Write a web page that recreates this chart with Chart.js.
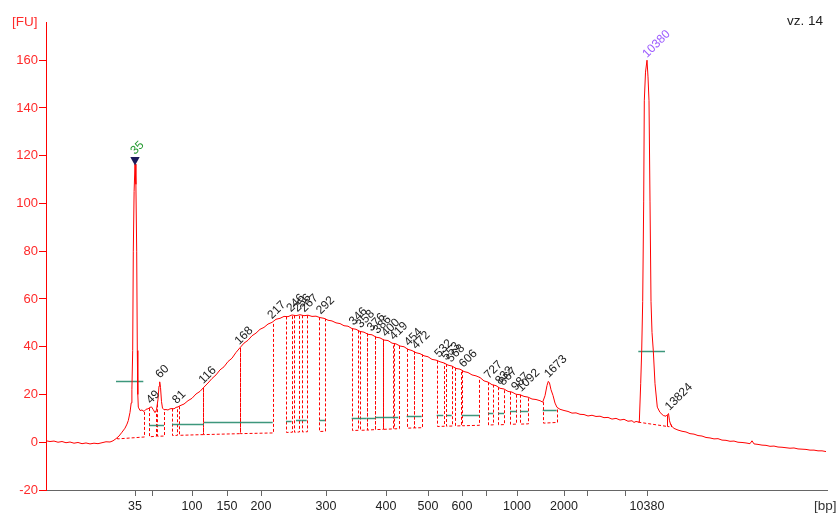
<!DOCTYPE html>
<html>
<head>
<meta charset="utf-8">
<script src="https://cdn.jsdelivr.net/npm/chart.js@4.4.1/dist/chart.umd.min.js"></script>
<style>
  html, body { margin: 0; padding: 0; background: #fff; }
  canvas { display: block; }
</style>
</head>
<body>
<canvas id="electropherogram" width="840" height="513"></canvas>
<script>
// Sizing ladder: fragment size (bp) against migration time (s)
const ladderBp = [35, 50, 100, 150, 200, 300, 400, 500, 600, 700, 1000, 2000, 3000, 7000, 10380];
const ladderTime = [48.9, 50.6, 54.6, 58.1, 61.5, 68.0, 74.0, 78.2, 81.6, 84.0, 87.1, 91.8, 94.1, 97.9, 100.1];
const ladderTickLabels = ['35', '', '100', '150', '200', '300', '400', '500', '600', '', '1000', '2000', '', '', '10380'];

// Fluorescence axis ticks [FU]
const fuTicks = [-20, 0, 20, 40, 60, 80, 100, 120, 140, 160];

// Measured signal: [migration time (s), fluorescence (FU)]
const traceSignal = [
  [40.0, 0.6], [40.4, 0.3], [40.8, 0.5], [41.2, 0.0], [41.6, 0.3], [42.0, -0.2], [42.4, 0.1], [42.8, -0.4],
  [43.2, -0.1], [43.6, -0.6], [44.0, -0.3], [44.4, -0.7], [44.8, -0.4], [45.2, -0.6], [45.6, -0.2], [46.0, 0.2],
  [46.4, 0.1], [46.7, 0.6], [47.0, 1.5], [47.3, 2.6], [47.6, 4.2], [47.9, 5.9], [48.1, 7.6], [48.23, 9.1],
  [48.4, 12.5], [48.52, 16.5], [48.59, 22], [48.67, 38.4], [48.73, 80], [48.81, 105], [48.9, 116.5], [48.99, 108],
  [49.07, 80], [49.13, 38.4], [49.18, 20], [49.23, 14.7], [49.4, 13.3], [49.6, 13.5], [49.8, 12.9], [50.0, 13.8],
  [50.2, 14.0], [50.4, 14.6], [50.55, 14.8], [50.7, 13.8], [50.9, 12.4], [51.05, 13.5], [51.2, 18], [51.3, 23.5],
  [51.37, 25.3], [51.45, 23], [51.55, 17], [51.65, 14.3], [51.8, 13.6], [52.0, 13.7], [52.2, 13.5], [52.4, 14.0],
  [52.6, 14.1], [52.8, 14.0], [53.0, 14.6], [53.2, 14.8], [53.4, 15.3], [53.8, 16.0], [54.2, 17.4], [54.6, 18.4],
  [55.0, 20.2], [55.4, 21.3], [55.8, 23.1], [56.2, 24.8], [56.6, 26.7], [57.0, 28.2], [57.4, 30.3], [57.8, 31.6],
  [58.2, 33.8], [58.6, 35.2], [59.0, 37.6], [59.4, 39.6], [59.8, 41.5], [60.2, 42.7], [60.6, 44.6], [61.0, 45.7],
  [61.4, 47.3], [61.8, 48.1], [62.2, 49.5], [62.6, 50.2], [63.0, 51.5], [63.4, 51.9], [63.8, 52.7], [64.2, 52.6],
  [64.6, 53.3], [65.0, 53.0], [65.4, 53.4], [65.8, 53.0], [66.2, 53.2], [66.6, 52.7], [67.0, 52.8], [67.4, 52.2],
  [67.8, 51.9], [68.2, 51.1], [68.6, 50.8], [69.0, 50.0], [69.4, 49.7], [69.8, 48.8], [70.2, 48.6], [70.6, 47.6],
  [71.0, 47.3], [71.4, 46.4], [71.8, 46.1], [72.2, 45.2], [72.6, 45.0], [73.0, 44.0], [73.4, 43.7], [73.8, 42.8],
  [74.2, 42.6], [74.6, 41.5], [75.0, 41.2], [75.4, 40.3], [75.8, 40.0], [76.2, 38.9], [76.6, 38.4], [77.0, 37.5],
  [77.4, 37.1], [77.8, 36.2], [78.2, 35.8], [78.6, 34.7], [79.0, 34.4], [79.4, 33.7], [79.8, 33.2], [80.2, 32.3],
  [80.6, 31.9], [81.0, 30.9], [81.4, 30.6], [81.8, 29.6], [82.2, 29.2], [82.6, 28.2], [83.0, 27.8], [83.4, 27.1],
  [83.8, 25.7], [84.2, 25.2], [84.6, 24.1], [85.0, 23.7], [85.4, 22.6], [85.8, 22.3], [86.2, 21.3], [86.6, 21.0],
  [87.0, 20.1], [87.4, 19.9], [87.8, 19.2], [88.2, 18.9], [88.6, 18.1], [89.0, 17.9], [89.4, 17.4], [89.67, 16.8],
  [89.9, 19.5], [90.1, 23.8], [90.23, 25.5], [90.35, 24.8], [90.5, 22.0], [90.7, 19.6], [90.9, 16.4], [91.1, 14.6],
  [91.4, 13.8], [91.8, 13.3], [92.2, 12.9], [92.6, 12.2], [93.0, 12.3], [93.4, 11.7], [93.8, 11.6], [94.2, 11.0],
  [94.6, 11.3], [95.0, 10.8], [95.4, 10.9], [95.8, 10.3], [96.2, 10.4], [96.6, 9.7], [97.0, 10.0], [97.4, 9.3],
  [97.8, 9.6], [98.2, 8.8], [98.6, 9.0], [98.8, 8.3], [99.0, 8.7], [99.33, 8.4], [99.47, 24.5], [99.57, 38.3],
  [99.67, 59], [99.77, 101], [99.83, 143], [99.95, 155], [100.1, 160], [100.2, 153], [100.3, 143], [100.4, 101],
  [100.5, 59], [100.6, 46], [100.73, 38.3], [100.9, 24.5], [101.13, 14.7], [101.4, 12.5], [101.73, 11.2], [102.0, 10.9],
  [102.15, 11.6], [102.25, 12.0], [102.35, 9.0], [102.5, 7.0], [102.8, 5.8], [103.2, 5.1], [103.6, 4.6], [104.0, 4.3],
  [104.4, 3.6], [104.8, 3.4], [105.2, 2.8], [105.6, 2.6], [106.0, 2.0], [106.4, 1.8], [106.8, 1.4], [107.2, 1.5],
  [107.6, 0.9], [108.0, 0.8], [108.4, 0.4], [108.8, 0.5], [109.2, 0.0], [109.6, -0.1], [110.0, -0.3], [110.4, -0.6],
  [110.6, 0.6], [110.8, -0.7], [111.2, -0.9], [111.6, -1.2], [112.0, -1.3], [112.4, -1.7], [112.8, -1.6], [113.2, -2.0],
  [113.6, -2.1], [114.0, -2.3], [114.4, -2.5], [114.8, -2.4], [115.2, -2.8], [115.6, -2.9], [116.0, -3.0], [116.4, -3.3],
  [116.8, -3.3], [117.2, -3.6], [117.6, -3.6], [118.0, -3.9]
];

// Called peaks: size (bp) and height (FU)
const peakBp = [35, 49, 60, 81, 116, 168, 217, 246, 256, 267, 292, 346, 358, 376, 386, 400, 419, 454, 472,
  532, 553, 568, 606, 727, 832, 867, 987, 1092, 1673, 10380, 13824];
const peakFU = [116.5, 14.7, 25.3, 14.7, 23.0, 39.4, 50.2, 53.1, 53.1, 53.0, 52.1, 47.5, 46.4, 45.0, 44.0, 42.7, 41.4,
  38.8, 37.5, 34.0, 32.9, 32.0, 29.8, 25.1, 22.7, 22.3, 20.2, 19.7, 25.5, 160, 11.8];
const lowerMarkerBp = 35;
const upperMarkerBp = 10380;

// Integration regions: start/end time (s) and baseline level (FU) at each end
const regionStart = [47.07, 50.3, 51.13, 52.57, 53.3, 55.73, 59.4, 64.0, 64.8, 65.63, 67.33, 70.57, 71.4, 72.07,
  72.9, 73.73, 74.8, 76.13, 76.8, 79.13, 80.0, 80.9, 81.57, 84.23, 85.23, 86.4, 87.4, 89.67, 99.23, 102.07];
const regionEnd = [49.8, 50.97, 51.8, 53.13, 55.73, 59.4, 62.67, 64.57, 65.3, 66.13, 67.9, 71.23, 72.07, 72.9,
  73.73, 74.67, 75.33, 76.8, 77.57, 79.8, 80.57, 81.5, 83.33, 84.67, 85.8, 87.0, 88.23, 91.13, 102.07, 102.47];
const regionBaseStart = [1.4, 2.3, 2.5, 2.8, 2.9, 3.2, 3.6, 4.1, 4.2, 4.3, 4.5, 4.9, 5.0, 5.1, 5.3, 5.4, 5.6, 5.9,
  6.0, 6.6, 6.7, 6.8, 6.9, 7.2, 7.3, 7.5, 7.6, 8.0, 8.4, 6.6];
const regionBaseEnd = [2.2, 2.5, 2.6, 2.9, 3.2, 3.6, 3.9, 4.2, 4.3, 4.4, 4.6, 5.0, 5.1, 5.3, 5.4, 5.6, 5.7, 6.0,
  6.1, 6.7, 6.8, 6.9, 7.1, 7.3, 7.4, 7.6, 7.7, 8.3, 6.6, 6.4];

// Region mean levels: start time, end time, level (FU)
const levelStart = [47.0, 50.3, 52.6, 55.8, 59.4, 64.0, 65.0, 65.57, 67.33, 70.57, 72.07, 72.9, 76.07, 79.07,
  80.07, 81.57, 84.23, 85.23, 86.4, 87.4, 89.67, 99.23];
const levelEnd = [49.73, 51.8, 55.8, 59.4, 62.67, 64.57, 65.57, 66.07, 67.9, 72.07, 72.9, 75.23, 77.57, 79.73,
  80.57, 83.33, 84.73, 85.8, 87.07, 88.23, 91.07, 101.9];
const levelFU = [25.6, 7.1, 7.7, 8.3, 8.5, 9.1, 9.3, 9.5, 9.5, 10.2, 10.2, 10.5, 10.9, 11.3, 11.6, 11.6, 12.4,
  12.4, 12.9, 12.9, 13.3, 38.3];

const sampleName = 'vz. 14';

// Convert a fragment size to migration time through the ladder (piecewise linear)
function bpToTime(bp) {
  const n = ladderBp.length;
  let i = 0;
  while (i < n - 2 && bp > ladderBp[i + 1]) i++;
  const f = (bp - ladderBp[i]) / (ladderBp[i + 1] - ladderBp[i]);
  return ladderTime[i] + f * (ladderTime[i + 1] - ladderTime[i]);
}

// Signal value at a given time (linear between samples)
function signalAt(t) {
  for (let i = 0; i < traceSignal.length - 1; i++) {
    const [t0, v0] = traceSignal[i];
    const [t1, v1] = traceSignal[i + 1];
    if (t >= t0 && t <= t1) return v0 + (v1 - v0) * (t - t0) / (t1 - t0);
  }
  return traceSignal[traceSignal.length - 1][1];
}

const FONT = 'Liberation Sans, Arial, sans-serif';

const annotations = {
  id: 'peakAnnotations',
  beforeDatasetsDraw(chart) {
    const { ctx, chartArea: a, scales: { x, y } } = chart;
    ctx.save();
    ctx.beginPath();
    ctx.rect(a.left, a.top, a.right - a.left, a.bottom - a.top);
    ctx.clip();

    // dashed region outlines
    ctx.strokeStyle = '#ff0000';
    ctx.lineWidth = 1;
    ctx.setLineDash([3, 2]);
    for (let i = 0; i < regionStart.length; i++) {
      const xs = Math.round(x.getPixelForValue(regionStart[i])) + 0.5;
      const xe = Math.round(x.getPixelForValue(regionEnd[i])) + 0.5;
      ctx.beginPath();
      ctx.moveTo(xs, y.getPixelForValue(signalAt(regionStart[i])));
      ctx.lineTo(xs, y.getPixelForValue(regionBaseStart[i]));
      ctx.lineTo(xe, y.getPixelForValue(regionBaseEnd[i]));
      ctx.lineTo(xe, y.getPixelForValue(signalAt(regionEnd[i])));
      ctx.stroke();
    }

    // region levels
    ctx.setLineDash([]);
    ctx.strokeStyle = 'rgba(40,140,110,0.9)';
    ctx.lineWidth = 1.5;
    for (let i = 0; i < levelStart.length; i++) {
      const yy = Math.round(y.getPixelForValue(levelFU[i])) + 0.5;
      ctx.beginPath();
      ctx.moveTo(x.getPixelForValue(levelStart[i]), yy);
      ctx.lineTo(x.getPixelForValue(levelEnd[i]), yy);
      ctx.stroke();
    }
    ctx.restore();
  },
  afterDatasetsDraw(chart) {
    const { ctx, scales: { x, y } } = chart;
    ctx.save();
    ctx.font = '12px ' + FONT;
    ctx.textAlign = 'left';
    ctx.textBaseline = 'alphabetic';
    for (let i = 0; i < peakBp.length; i++) {
      const px = x.getPixelForValue(bpToTime(peakBp[i]));
      const py = y.getPixelForValue(peakFU[i]);
      let lift = 3;
      let color = '#1e1e1e';
      if (peakBp[i] === lowerMarkerBp) {
        // downward marker triangle on the lower marker peak
        ctx.fillStyle = '#1b1b5a';
        ctx.beginPath();
        ctx.moveTo(px, py + 1.5);
        ctx.lineTo(px - 4.7, py - 7);
        ctx.lineTo(px + 4.7, py - 7);
        ctx.closePath();
        ctx.fill();
        lift = 9;
        color = '#22992e';
      } else if (peakBp[i] === upperMarkerBp) {
        color = '#9d5cff';
        lift = 2;
      }
      ctx.fillStyle = color;
      ctx.save();
      ctx.translate(px, py - lift);
      ctx.rotate(-Math.PI / 4);
      ctx.fillText(String(peakBp[i]), 0, 0);
      ctx.restore();
    }
    ctx.restore();
  },
  afterDraw(chart) {
    const { ctx } = chart;
    ctx.save();
    ctx.textBaseline = 'middle';
    ctx.font = '13.5px ' + FONT;
    ctx.fillStyle = '#ff2a2a';
    ctx.textAlign = 'left';
    ctx.fillText('[FU]', 12, 22);
    ctx.fillStyle = '#222';
    ctx.textAlign = 'right';
    ctx.fillText(sampleName, 823, 21);
    ctx.fillStyle = '#333';
    ctx.textAlign = 'left';
    ctx.fillText('[bp]', 814, 506);
    ctx.restore();
  }
};

Chart.defaults.font.family = FONT;

new Chart(document.getElementById('electropherogram'), {
  type: 'line',
  data: {
    datasets: [{
      data: traceSignal.map(([t, v]) => ({ x: t, y: v })),
      borderColor: '#ff0000',
      borderWidth: 1,
      pointRadius: 0,
      tension: 0,
      fill: false
    }]
  },
  options: {
    responsive: false,
    animation: false,
    devicePixelRatio: 1,
    layout: { padding: { left: 0, top: 22, right: 13, bottom: 0 } },
    plugins: { legend: { display: false }, tooltip: { enabled: false } },
    scales: {
      x: {
        type: 'linear',
        min: 40,
        max: 118.1,
        afterBuildTicks(scale) { scale.ticks = ladderTime.map(v => ({ value: v })); },
        afterFit(scale) { scale.height = 23; },
        ticks: {
          autoSkip: false,
          maxRotation: 0,
          minRotation: 0,
          padding: 3,
          color: '#222',
          font: { size: 12.5 },
          callback: (v, i) => ladderTickLabels[i]
        },
        grid: { drawOnChartArea: false, drawTicks: true, tickLength: 6, color: '#666' },
        border: { display: true, color: '#666', width: 1 }
      },
      y: {
        type: 'linear',
        min: -20,
        max: 176,
        afterBuildTicks(scale) { scale.ticks = fuTicks.map(v => ({ value: v })); },
        afterFit(scale) { scale.width = 46; },
        ticks: {
          padding: 1,
          color: '#ff2a2a',
          font: { size: 13 }
        },
        grid: { drawOnChartArea: false, drawTicks: true, tickLength: 7, color: '#ff0000' },
        border: { display: true, color: '#ff0000', width: 1 }
      }
    }
  },
  plugins: [annotations]
});
</script>
</body>
</html>
